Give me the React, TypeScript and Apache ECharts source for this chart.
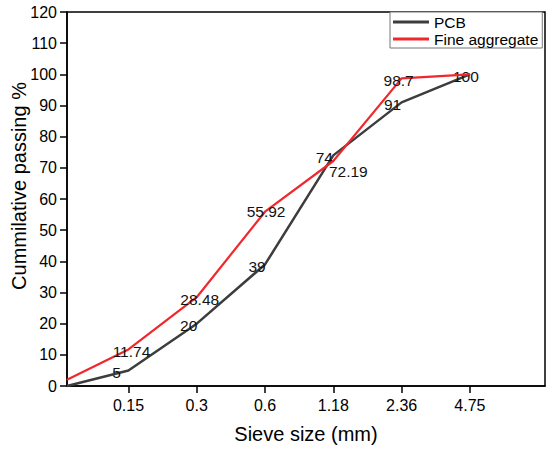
import React, { useEffect, useRef } from 'react';
import * as echarts from 'echarts';

const sieveSizes = ['0.15', '0.3', '0.6', '1.18', '2.36', '4.75'];
const tickPositions = [1, 2, 3, 4, 5, 6];
const pointPositions = [0.1, 1, 2, 3, 4, 5, 6];
const pcbValues = [0, 5, 20, 39, 74, 91, 100];
const fineValues = [2, 11.74, 28.48, 55.92, 72.19, 98.7, 100];

// label placement tweaks (style only)
const pcbLabelOffsets: (number[] | null)[] = [null, [-12, 2], [-8, 2], [-8, 2], [-9, 2], [-9, 2], [-4, 2]];
const fineLabelOffsets: (number[] | null)[] = [null, [3, 2], [3, 2], [1, 0], [15, 10], [-3, 2], null];

function buildData(values: number[], offsets: (number[] | null)[]) {
  return values.map((v, i) => {
    const off = offsets[i];
    return {
      value: [pointPositions[i], v],
      label: off ? { show: true, offset: off } : { show: false },
    };
  });
}

export default function App() {
  const ref = useRef<HTMLDivElement>(null);
  useEffect(() => {
    document.body.style.margin = '0';
    if (!ref.current) return;
    const chart = echarts.init(ref.current, undefined, { renderer: 'svg' });
    const font = 'Liberation Sans, Arial, sans-serif';
    const labelStyle = {
      show: true,
      position: 'inside',
      color: '#111',
      fontSize: 15.5,
      fontFamily: font,
      formatter: (p: any) => String(p.value[1]),
    };
    chart.setOption({
      animation: false,
      backgroundColor: '#fff',
      textStyle: { fontFamily: font },
      grid: {
        left: 67,
        right: 5,
        top: 12,
        bottom: 64,
        outerBoundsMode: 'none',
        containLabel: false,
        show: true,
        borderColor: '#000',
        borderWidth: 1.5,
        backgroundColor: 'transparent',
      },
      legend: {
        left: 390,
        top: 12,
        orient: 'vertical',
        backgroundColor: '#fff',
        borderColor: '#777',
        borderWidth: 1,
        borderRadius: 0,
        padding: [2, 4, 1, 3],
        itemGap: 1,
        itemWidth: 36,
        itemHeight: 3,
        textStyle: { fontSize: 15.5, color: '#000', fontFamily: font },
        data: [
          { name: 'PCB', icon: 'rect' },
          { name: 'Fine aggregate', icon: 'rect' },
        ],
      },
      xAxis: {
        type: 'value',
        min: 0.1,
        max: 7.1,
        name: 'Sieve size (mm)',
        nameLocation: 'middle',
        nameGap: 38,
        nameMoveOverlap: false,
        nameTextStyle: { fontSize: 20, color: '#000', fontFamily: font },
        splitLine: { show: false },
        axisLine: { show: true, lineStyle: { color: '#000', width: 1.5 } },
        axisTick: { show: true, length: 7, customValues: tickPositions, lineStyle: { color: '#000', width: 1.5 } },
        axisLabel: {
          customValues: tickPositions,
          fontSize: 16,
          color: '#000',
          margin: 11,
          formatter: (v: number) => sieveSizes[Math.round(v) - 1] ?? '',
        },
      },
      yAxis: {
        type: 'value',
        min: 0,
        max: 120,
        interval: 10,
        name: 'Cummilative passing %',
        nameLocation: 'middle',
        nameGap: 38,
        nameMoveOverlap: false,
        nameTextStyle: { fontSize: 20, color: '#000', fontFamily: font, padding: [0, 0, 0, 26] },
        splitLine: { show: false },
        axisLine: { show: true, lineStyle: { color: '#000', width: 1.5 } },
        axisTick: { show: true, length: 7, lineStyle: { color: '#000', width: 1.5 } },
        axisLabel: { fontSize: 16, color: '#000', margin: 10 },
      },
      series: [
        {
          name: 'PCB',
          type: 'line',
          data: buildData(pcbValues, pcbLabelOffsets),
          symbol: 'circle',
          symbolSize: 1,
          lineStyle: { color: '#3d3d3d', width: 2.5 },
          itemStyle: { color: '#3d3d3d' },
          label: labelStyle,
          z: 2,
        },
        {
          name: 'Fine aggregate',
          type: 'line',
          data: buildData(fineValues, fineLabelOffsets),
          symbol: 'circle',
          symbolSize: 1,
          lineStyle: { color: '#f0282d', width: 2.2 },
          itemStyle: { color: '#f0282d' },
          label: labelStyle,
          z: 3,
        },
      ],
    });
    return () => chart.dispose();
  }, []);
  return <div ref={ref} style={{ width: 550, height: 450 }} />;
}
